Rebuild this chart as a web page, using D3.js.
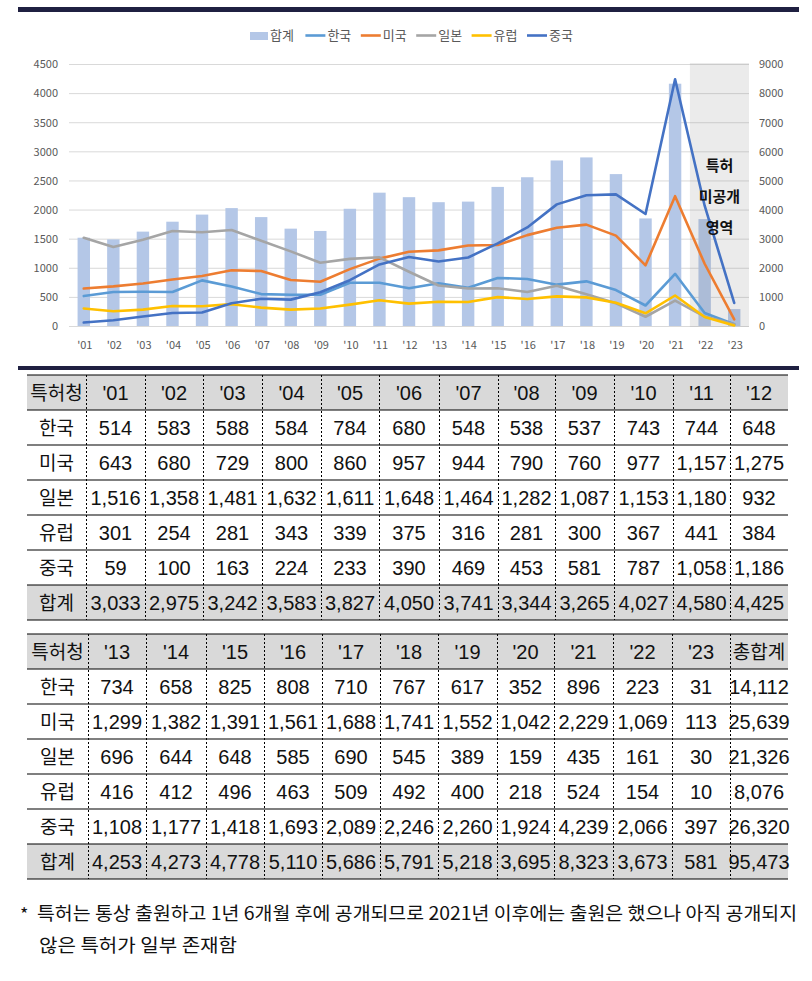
<!DOCTYPE html>
<html><head><meta charset="utf-8">
<script src="https://cdn.jsdelivr.net/npm/d3@7"></script>
<style>
html,body{margin:0;padding:0;background:#fff;}
svg{display:block;}
</style></head>
<body>
<svg id="c" width="812" height="981"></svg>
<script>
// ---- data ----
const years = ["'01","'02","'03","'04","'05","'06","'07","'08","'09","'10","'11","'12","'13","'14","'15","'16","'17","'18","'19","'20","'21","'22","'23"];
const korea  = [514,583,588,584,784,680,548,538,537,743,744,648,734,658,825,808,710,767,617,352,896,223,31];
const usa    = [643,680,729,800,860,957,944,790,760,977,1157,1275,1299,1382,1391,1561,1688,1741,1552,1042,2229,1069,113];
const japan  = [1516,1358,1481,1632,1611,1648,1464,1282,1087,1153,1180,932,696,644,648,585,690,545,389,159,435,161,30];
const europe = [301,254,281,343,339,375,316,281,300,367,441,384,416,412,496,463,509,492,400,218,524,154,10];
const china  = [59,100,163,224,233,390,469,453,581,787,1058,1186,1108,1177,1418,1693,2089,2246,2260,1924,4239,2066,397];
const total  = [3033,2975,3242,3583,3827,4050,3741,3344,3265,4027,4580,4425,4253,4273,4778,5110,5686,5791,5218,3695,8323,3673,581];
const grandTotal = [14112,25639,21326,8076,26320,95473];
const seriesNames = ["한국","미국","일본","유럽","중국"];
const totalName = "합계";
const leftTicks = [0,500,1000,1500,2000,2500,3000,3500,4000,4500];
const rightTicks = [0,1000,2000,3000,4000,5000,6000,7000,8000,9000];
const unpublishedYears = ["'22","'23"];
const regionLabel = ["특허","미공개","영역"];
const tableHeaderLabel = "특허청";
const grandTotalLabel = "총합계";
const footnote1 = "특허는 통상 출원하고 1년 6개월 후에 공개되므로 2021년 이후에는 출원은 했으나 아직 공개되지";
const footnote2 = "않은 특허가 일부 존재함";

const seriesValues = [korea, usa, japan, europe, china];
const colors = ["#5b9bd5","#ed7d31","#a5a5a5","#ffc000","#4472c4"];
const barColor = "#b4c7e7";
const navy = "#1f2041";
const KR = "'Noto Sans CJK KR','Noto Sans',sans-serif";
const NUM = "'Liberation Sans',Arial,sans-serif";

const svg = d3.select("#c");

// navy rules
svg.append("rect").attr("x",18).attr("y",7).attr("width",781).attr("height",5).attr("fill",navy);
svg.append("rect").attr("x",18).attr("y",366).attr("width",781).attr("height",4).attr("fill",navy);

// ---- chart ----
const x = d3.scaleBand().domain(years).range([69,749]).paddingInner(0.58).paddingOuter(0.29);
const step = x.step();
const xStart = i => 69 + i*step;
const yL = d3.scaleLinear().domain([0,4500]).range([326,64]);
const yR = d3.scaleLinear().domain([0,9000]).range([326,64]);
const tf = d3.format("d");

const g = svg.append("g");
g.selectAll("line.grid").data(leftTicks).join("line")
  .attr("x1",69).attr("x2",749).attr("y1",d=>yL(d)+0.5).attr("y2",d=>yL(d)+0.5)
  .attr("stroke","#d9d9d9").attr("stroke-width",1);

const leftAxis = d3.axisLeft(yL).tickValues(leftTicks).tickFormat(tf).tickSize(0).tickPadding(0);
const la = svg.append("g").attr("transform","translate(58,0)").call(leftAxis);
la.select(".domain").remove();
la.selectAll("text").attr("font-family",KR).attr("font-size",11).attr("fill","#595959").attr("dy","0.35em");

const rightAxis = d3.axisRight(yR).tickValues(rightTicks).tickFormat(tf).tickSize(0).tickPadding(0);
const ra = svg.append("g").attr("transform","translate(759,0)").call(rightAxis);
ra.select(".domain").remove();
ra.selectAll("text").attr("font-family",KR).attr("font-size",11).attr("fill","#595959").attr("dy","0.35em");

const bottomAxis = d3.axisBottom(x).tickSize(0).tickPadding(0);
const ba = svg.append("g").attr("transform","translate(1,340)").call(bottomAxis);
ba.select(".domain").remove();
ba.selectAll("text").attr("font-family",KR).attr("font-size",11).attr("fill","#595959").attr("dy","0.35em").attr("y",5);

// bars (total on right axis)
g.selectAll("rect.bar").data(total).join("rect")
  .attr("x",(d,i)=>x(years[i])).attr("width",x.bandwidth())
  .attr("y",d=>yR(d)).attr("height",d=>yR(0)-yR(d)).attr("fill",barColor);

// unpublished region overlay
const rx0 = xStart(years.indexOf(unpublishedYears[0]));
svg.append("rect").attr("x",rx0).attr("y",63).attr("width",749-rx0).attr("height",264)
  .attr("fill","#888").attr("fill-opacity",0.17);

// lines
const line = d3.line().x((d,i)=>x(years[i])+x.bandwidth()/2).y(d=>yL(d));
seriesValues.forEach((vals,k)=>{
  svg.append("path").datum(vals).attr("d",line).attr("fill","none")
    .attr("stroke",colors[k]).attr("stroke-width",2.6).attr("stroke-linejoin","round").attr("stroke-linecap","round");
});

// region label
const rcx = (rx0+749)/2;
regionLabel.forEach((t,i)=>{
  svg.append("text").attr("x",rcx).attr("y",171+i*31).attr("text-anchor","middle")
    .attr("font-family",KR).attr("font-weight","bold").attr("font-size",15).attr("fill","#111").text(t);
});

// legend
const legendItems = [totalName].concat(seriesNames);
const lg = svg.append("g");
legendItems.forEach((name,i)=>{
  const lx = 250 + i*55.4;
  if(i===0){
    lg.append("rect").attr("x",lx).attr("y",32).attr("width",18).attr("height",8).attr("fill",barColor);
  } else {
    lg.append("line").attr("x1",lx).attr("x2",lx+20).attr("y1",35.5).attr("y2",35.5)
      .attr("stroke",colors[i-1]).attr("stroke-width",2.6);
  }
  lg.append("text").attr("x",lx+(i===0?20:22)).attr("y",40).attr("font-family",KR).attr("font-size",13)
    .attr("fill","#595959").text(name);
});

// ---- tables ----
const fmt = d3.format(",");
const rowH = 35;
function drawTable(top, cols, colEdges){
  const left = colEdges[0], right = colEdges[colEdges.length-1];
  const tg = svg.append("g");
  tg.append("rect").attr("x",left).attr("y",top).attr("width",right-left).attr("height",rowH).attr("fill","#d9d9d9");
  tg.append("rect").attr("x",left).attr("y",top+rowH*6).attr("width",right-left).attr("height",rowH).attr("fill","#d9d9d9");
  for(let r=0;r<=7;r++){
    tg.append("line").attr("x1",left).attr("x2",right).attr("y1",top+r*rowH).attr("y2",top+r*rowH)
      .attr("stroke","#000").attr("stroke-width",1.2);
  }
  for(let c=1;c<colEdges.length-1;c++){
    tg.append("line").attr("x1",colEdges[c]+0.5).attr("x2",colEdges[c]+0.5).attr("y1",top).attr("y2",top+7*rowH)
      .attr("stroke","#000").attr("stroke-width",1).attr("stroke-dasharray","2,2");
  }
  const cx = c => (colEdges[c]+colEdges[c+1])/2;
  const base = r => top + r*rowH + 25;
  const rowLabels = [tableHeaderLabel].concat(seriesNames,[totalName]);
  rowLabels.forEach((t,r)=>{
    tg.append("text").attr("x",cx(0)).attr("y",base(r)).attr("text-anchor","middle")
      .attr("font-family",KR).attr("font-size",19).attr("fill","#111").text(t);
  });
  cols.forEach((ci,j)=>{
    const c = j+1;
    const isGrand = ci===-1;
    tg.append("text").attr("x",cx(c)).attr("y",base(0)).attr("text-anchor","middle")
      .attr("font-family",isGrand?KR:NUM).attr("font-size",isGrand?19:20).attr("fill","#111")
      .text(isGrand?grandTotalLabel:years[ci]);
    const vals = isGrand ? grandTotal : seriesValues.map(s=>s[ci]).concat([total[ci]]);
    vals.forEach((v,r)=>{
      tg.append("text").attr("x",cx(c)).attr("y",base(r+1)).attr("text-anchor","middle")
        .attr("font-family",NUM).attr("font-size",20).attr("fill","#111").text(fmt(v));
    });
  });
}
const edges1 = [27,86,145,203,262,321,379,439,498,555,614,673,730,788];
const edges2 = [27,88,146,206,264,322,380,438,497,554,613,672,730,788];
drawTable(375, d3.range(0,12), edges1);
drawTable(634, d3.range(12,23).concat([-1]), edges2);

// footnote
svg.append("text").attr("x",20).attr("y",921).attr("font-family",KR).attr("font-size",18).attr("fill","#111").text("*");
svg.append("text").attr("x",37).attr("y",920).attr("font-family",KR).attr("font-size",18).attr("fill","#111")
  .attr("textLength",760).attr("lengthAdjust","spacingAndGlyphs").text(footnote1);
svg.append("text").attr("x",39).attr("y",952).attr("font-family",KR).attr("font-size",18).attr("fill","#111")
  .attr("textLength",198).attr("lengthAdjust","spacingAndGlyphs").text(footnote2);
</script>
</body></html>
